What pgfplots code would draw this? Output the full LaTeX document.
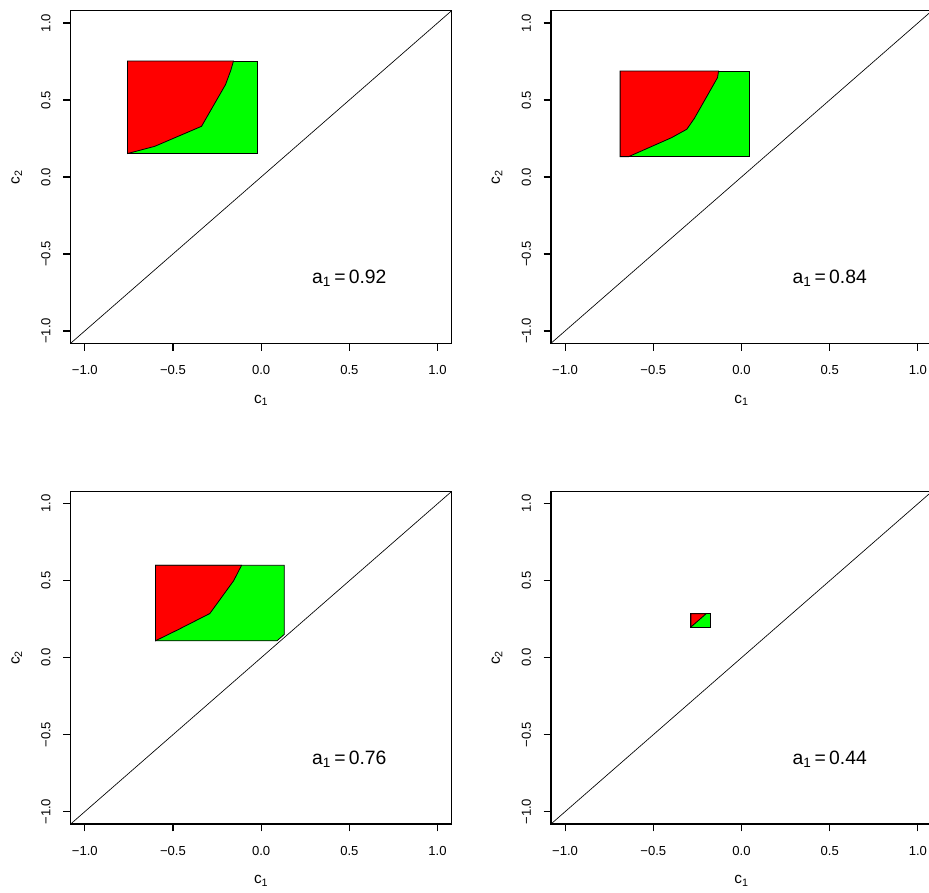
\documentclass[border=0pt]{standalone}
\usepackage{pgfplots}
\pgfplotsset{compat=1.18}
\usepackage{fontspec}
\setmainfont{Liberation Sans}
\definecolor{rgreen}{rgb}{0,1,0}
\definecolor{rred}{rgb}{1,0,0}
\pgfplotsset{rpanel/.style={
  scale only axis, width=285.75pt, height=249.45pt,
  anchor=south west,
  xmin=-1.08,xmax=1.08,ymin=-1.08,ymax=1.08,
  axis line style={line width=0.85pt},
  xtick={-1,-0.5,0,0.5,1}, ytick={-1,-0.5,0,0.5,1},
  xticklabels={−1.0,−0.5,0.0,0.5,1.0},
  yticklabels={−1.0,−0.5,0.0,0.5,1.0},
  tick pos=left, tick align=outside, major tick length=5.5pt,
  tick style={line width=0.85pt, black},
  ticklabel style={font=\fontsize{9.8}{11}\selectfont},
  xticklabel style={anchor=center},
  yticklabel style={rotate=90, anchor=center},
  xticklabel shift=14.5pt, yticklabel shift=13pt,
  xlabel={c\textsubscript{1}}, ylabel={c\textsubscript{2}},
  label style={font=\fontsize{11.5}{13}\selectfont},
  xlabel style={at={(axis description cs:0.5,-0.1714)}, anchor=center},
  ylabel style={at={(axis description cs:-0.1417,0.5)}, anchor=center, rotate=0},
  clip=true,
}}
\begin{document}
\begin{tikzpicture}
\useasboundingbox (0,0) rectangle (696.75pt,669.75pt);
\clip (0,0) rectangle (696.75pt,669.75pt);
% top-left
\begin{axis}[rpanel, at={(53.0pt,412.3pt)}]
\addplot[fill=rgreen, draw=black, line width=0.6pt] coordinates {(-0.758,0.152) (-0.023,0.152) (-0.023,0.753) (-0.758,0.753)} -- cycle;
\addplot[fill=rred, draw=black, line width=0.6pt] coordinates {(-0.758,0.152) (-0.603,0.199) (-0.338,0.329) (-0.202,0.600) (-0.172,0.693) (-0.157,0.753) (-0.758,0.753)} -- cycle;
\addplot[black, line width=0.5pt] coordinates {(-1.08,-1.08) (1.08,1.08)};
\node at (axis cs:0.5,-0.66) {\fontsize{14.5}{16}\selectfont a\textsubscript{1}\,=\,0.92};
\end{axis}
% top-right
\begin{axis}[rpanel, at={(413.25pt,412.3pt)}]
\addplot[fill=rgreen, draw=black, line width=0.6pt] coordinates {(-0.688,0.132) (0.045,0.132) (0.045,0.688) (-0.688,0.688)} -- cycle;
\addplot[fill=rred, draw=black, line width=0.6pt] coordinates {(-0.688,0.132) (-0.640,0.132) (-0.395,0.256) (-0.310,0.310) (-0.268,0.379) (-0.136,0.645) (-0.130,0.688) (-0.688,0.688)} -- cycle;
\addplot[black, line width=0.5pt] coordinates {(-1.08,-1.08) (1.08,1.08)};
\node at (axis cs:0.5,-0.66) {\fontsize{14.5}{16}\selectfont a\textsubscript{1}\,=\,0.84};
\end{axis}
% bottom-left
\begin{axis}[rpanel, at={(53.0pt,51.75pt)}]
\addplot[fill=rgreen, draw=black, line width=0.6pt] coordinates {(-0.599,0.110) (0.090,0.110) (0.131,0.151) (0.131,0.600) (-0.599,0.600)} -- cycle;
\addplot[fill=rred, draw=black, line width=0.6pt] coordinates {(-0.599,0.110) (-0.471,0.182) (-0.291,0.287) (-0.156,0.500) (-0.111,0.600) (-0.599,0.600)} -- cycle;
\addplot[black, line width=0.5pt] coordinates {(-1.08,-1.08) (1.08,1.08)};
\node at (axis cs:0.5,-0.66) {\fontsize{14.5}{16}\selectfont a\textsubscript{1}\,=\,0.76};
\end{axis}
% bottom-right
\begin{axis}[rpanel, at={(413.25pt,51.75pt)}]
\addplot[fill=rgreen, draw=black, line width=0.6pt] coordinates {(-0.287,0.199) (-0.178,0.199) (-0.178,0.286) (-0.287,0.286)} -- cycle;
\addplot[fill=rred, draw=black, line width=0.6pt] coordinates {(-0.287,0.199) (-0.200,0.286) (-0.287,0.286)} -- cycle;
\addplot[black, line width=0.5pt] coordinates {(-1.08,-1.08) (1.08,1.08)};
\node at (axis cs:0.5,-0.66) {\fontsize{14.5}{16}\selectfont a\textsubscript{1}\,=\,0.44};
\end{axis}
\end{tikzpicture}
\end{document}
